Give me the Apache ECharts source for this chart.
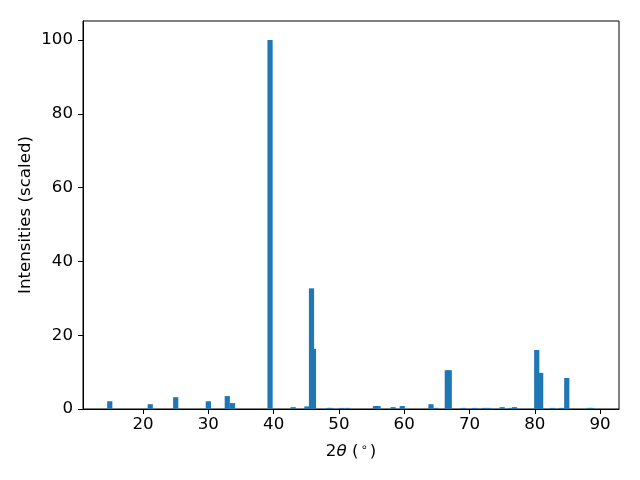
<!DOCTYPE html>
<html>
<head>
<meta charset="utf-8">
<script src="https://cdn.jsdelivr.net/npm/echarts@6/dist/echarts.min.js"></script>
<style>html,body{margin:0;padding:0;background:#fff}#c{width:640px;height:480px}</style>
</head>
<body>
<div id="c"></div>
<script>
const twoTheta = [14.9, 21.1, 25.0, 30.0, 32.9, 33.7, 39.45, 43.0, 45.1, 45.8, 46.1, 48.4, 48.7, 50.4, 51.3, 55.6, 56.0, 58.3, 59.7, 64.1, 64.8, 66.6, 66.9, 69.1, 70.8, 72.3, 72.9, 75.0, 76.3, 76.9, 80.3, 80.9, 82.7, 84.1, 84.9, 88.4, 88.7];
const intensities = [2.1, 1.3, 3.2, 2.1, 3.5, 1.6, 100, 0.5, 0.7, 32.7, 16.3, 0.3, 0.3, 0.3, 0.3, 0.8, 0.8, 0.5, 0.8, 1.3, 0.3, 10.5, 10.5, 0.3, 0.3, 0.3, 0.3, 0.5, 0.3, 0.5, 16.0, 9.8, 0.3, 0.3, 8.4, 0.3, 0.3];
const xTicks = [20, 30, 40, 50, 60, 70, 80, 90];
const yTicks = [0, 20, 40, 60, 80, 100];

const chart = echarts.init(document.getElementById('c'), null, {renderer: 'canvas'});
const font = 'DejaVu Sans';
const fs = 16.67;
chart.setOption({
  animation: false,
  grid: {left: 83, right: 21, top: 21, bottom: 71, show: true, borderColor: '#000', borderWidth: 1, backgroundColor: 'transparent'},
  xAxis: {
    type: 'value', min: 10.8, max: 92.9,
    axisLine: {show: true, onZero: false, lineStyle: {color: '#000', width: 1}},
    axisTick: {show: true, length: 5, inside: false, customValues: xTicks, lineStyle: {color: '#000'}},
    axisLabel: {customValues: xTicks, color: '#000', fontFamily: font, fontSize: fs, margin: 7},
    splitLine: {show: false},
    name: '{n|2}{i|θ}{n| (}{s|∘}{n|)}',
    nameLocation: 'middle', nameGap: 33, nameMoveOverlap: false,
    nameTextStyle: {
      rich: {
        n: {fontFamily: font, fontSize: fs, color: '#000'},
        i: {fontFamily: font, fontSize: fs, fontStyle: 'italic', color: '#000'},
        s: {fontFamily: font, fontSize: 11.5, color: '#000', verticalAlign: 'top', padding: [0, 2, 7, 2]}
      }
    }
  },
  yAxis: {
    type: 'value', min: 0, max: 105.15,
    axisLine: {show: true, lineStyle: {color: '#000', width: 1}},
    axisTick: {show: true, length: 5, customValues: yTicks, lineStyle: {color: '#000'}},
    axisLabel: {customValues: yTicks, color: '#000', fontFamily: font, fontSize: fs, margin: 10},
    splitLine: {show: false},
    name: 'Intensities (scaled)', nameLocation: 'middle', nameGap: 49, nameMoveOverlap: false,
    nameTextStyle: {fontFamily: font, fontSize: fs, color: '#000'}
  },
  series: [{
    type: 'bar',
    data: twoTheta.map((x, i) => [x, intensities[i]]),
    barWidth: 5.2,
    itemStyle: {color: '#1f77b4'},
    clip: true
  }]
});
</script>
</body>
</html>
